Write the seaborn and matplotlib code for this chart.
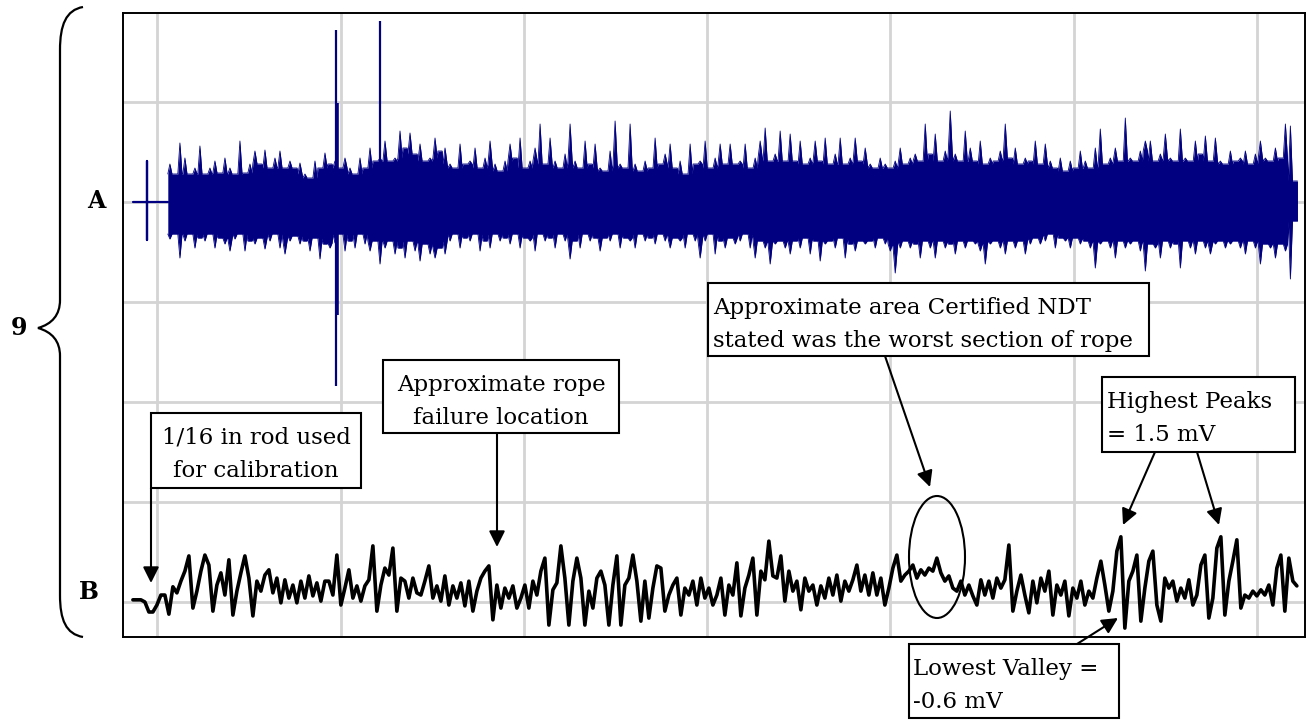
import numpy as np
import pandas as pd
import matplotlib
matplotlib.use("Agg")
import matplotlib.pyplot as plt
import seaborn as sns
from matplotlib.patches import Rectangle, Ellipse, PathPatch, FancyArrowPatch
from matplotlib.path import Path

# --- channel A (upper trace): envelope of the dense signal, in grid divisions ---
A_CENTRE = 4.0
A_X_START = 0.068
A_X_STEP = 0.0273
A_UPPER = [
    0.38, 0.28, 0.59, 0.44, 0.28, 0.34, 0.56, 0.28, 0.34, 0.41, 0.29, 0.44, 0.34, 0.28, 0.61, 0.29, 0.38, 0.51, 0.38, 0.52,
    0.34, 0.44, 0.51, 0.34, 0.41, 0.34, 0.39, 0.28, 0.24, 0.41, 0.34, 0.49, 0.38, 0.41, 0.34, 0.44, 0.34, 0.28, 0.44, 0.34,
    0.54, 0.41, 0.44, 0.61, 0.41, 0.44, 0.71, 0.54, 0.69, 0.48, 0.58, 0.41, 0.44, 0.64, 0.51,
    0.54, 0.38, 0.34, 0.58, 0.38, 0.41, 0.54, 0.34, 0.44, 0.61, 0.38, 0.31, 0.41, 0.58, 0.44, 0.64, 0.34, 0.41, 0.54, 0.78,
    0.38, 0.64, 0.41, 0.34, 0.48, 0.78, 0.41, 0.34, 0.61, 0.38, 0.58, 0.34, 0.31, 0.51, 0.81, 0.38, 0.34, 0.78, 0.38, 0.31,
    0.41, 0.34, 0.64, 0.38, 0.48, 0.58, 0.34, 0.41, 0.28, 0.58, 0.38, 0.41, 0.61, 0.34, 0.44, 0.58, 0.38, 0.58, 0.38, 0.41,
    0.58, 0.34, 0.44, 0.61, 0.74, 0.41, 0.48, 0.71, 0.41, 0.68, 0.41, 0.61, 0.38, 0.44, 0.61, 0.41, 0.64, 0.38, 0.48, 0.64,
    0.38, 0.44, 0.64, 0.41,
    0.54, 0.38, 0.34, 0.44, 0.38, 0.34, 0.41, 0.54, 0.38, 0.44, 0.48, 0.41, 0.78, 0.48, 0.68, 0.41, 0.51, 0.91, 0.48, 0.41,
    0.71, 0.54, 0.41, 0.61, 0.38, 0.44, 0.41, 0.51, 0.78, 0.44, 0.54, 0.38, 0.44, 0.41, 0.61, 0.38, 0.58, 0.41, 0.34, 0.44,
    0.31, 0.41, 0.34, 0.51, 0.41, 0.34, 0.54, 0.73, 0.38, 0.44, 0.54, 0.41, 0.84, 0.44, 0.41, 0.51, 0.61, 0.61, 0.41, 0.48,
    0.68, 0.44, 0.41, 0.73, 0.44, 0.41, 0.61, 0.48, 0.66, 0.41, 0.64, 0.41, 0.38, 0.51, 0.41, 0.44, 0.51, 0.38, 0.48, 0.61,
    0.44, 0.41, 0.54, 0.44, 0.78, 0.76, 0.21,
]
A_LOWER = [
    0.37, 0.32, 0.56, 0.39, 0.32, 0.46, 0.36, 0.39, 0.32, 0.46, 0.36, 0.42, 0.49, 0.37, 0.32, 0.49, 0.39, 0.42, 0.36, 0.47,
    0.39, 0.32, 0.46, 0.52, 0.39, 0.34, 0.42, 0.39, 0.49, 0.36, 0.57, 0.42, 0.46, 0.41, 0.32, 0.49, 0.39, 0.46, 0.32, 0.42,
    0.49, 0.39, 0.62, 0.46, 0.39, 0.52, 0.46, 0.56, 0.39, 0.49, 0.59, 0.42, 0.52, 0.56, 0.46,
    0.52, 0.39, 0.32, 0.46, 0.36, 0.39, 0.32, 0.49, 0.39, 0.46, 0.32, 0.39, 0.36, 0.42, 0.32, 0.46, 0.36, 0.39, 0.49, 0.32,
    0.39, 0.36, 0.46, 0.32, 0.39, 0.57, 0.39, 0.46, 0.32, 0.39, 0.36, 0.49, 0.36, 0.39, 0.32, 0.46, 0.36, 0.39, 0.46, 0.32,
    0.39, 0.36, 0.42, 0.32, 0.39, 0.46, 0.36, 0.39, 0.46, 0.32, 0.39, 0.56, 0.39, 0.32, 0.52, 0.39, 0.46, 0.36, 0.42, 0.39,
    0.32, 0.46, 0.56, 0.39, 0.46, 0.62, 0.42, 0.39, 0.46, 0.52, 0.39, 0.46, 0.36, 0.52, 0.39, 0.59, 0.42, 0.39, 0.46, 0.36,
    0.56, 0.42, 0.49, 0.39,
    0.42, 0.39, 0.46, 0.36, 0.42, 0.49, 0.71, 0.46, 0.39, 0.46, 0.42, 0.56, 0.39, 0.46, 0.56, 0.39, 0.46, 0.42, 0.52, 0.39,
    0.46, 0.39, 0.42, 0.49, 0.62, 0.42, 0.39, 0.46, 0.52, 0.39, 0.46, 0.39, 0.52, 0.42, 0.36, 0.42, 0.39, 0.32, 0.46, 0.36,
    0.39, 0.46, 0.36, 0.42, 0.39, 0.46, 0.66, 0.42, 0.39, 0.46, 0.56, 0.39, 0.46, 0.42, 0.39, 0.49, 0.69, 0.42, 0.46, 0.56,
    0.39, 0.46, 0.42, 0.66, 0.39, 0.46, 0.52, 0.39, 0.46, 0.52, 0.42, 0.39, 0.46, 0.42, 0.39, 0.46, 0.52, 0.39, 0.46, 0.62,
    0.42, 0.46, 0.56, 0.42, 0.49, 0.77, 0.19,
]

# two large isolated spikes on channel A
SPIKE_X = [0.975, 1.212]
SPIKE_TOP = [1.72, 1.81]
SPIKE_BOTTOM = [-1.84, -0.30]

# calibration blip on channel A before the recording starts
CAL_A_X = [-0.134, -0.057, -0.057, -0.057, -0.057, 0.057]
CAL_A_Y = [0.0, 0.0, 0.41, -0.38, 0.0, 0.0]

# --- channel B (lower trace) in mV ---
B_X_START = -0.134
B_X_STEP = 0.02183
B_MV_PER_DIV = 2.3
B_MV = [
    0.05, 0.05, 0.05, 0.00, -0.23, -0.23, -0.07, 0.16, 0.16, -0.28, 0.35, 0.21, 0.48, 0.71, 1.06, -0.14, 0.25, 0.71, 1.08, 0.85,
    -0.21, 0.39, 0.67, 0.16, 0.97, -0.30, 0.25, 0.67, 1.06, 0.55, -0.32, 0.48, 0.25, 0.62, 0.74, 0.21, 0.55, -0.02, 0.51, 0.09,
    0.39, -0.02, 0.48, 0.09, 0.60, 0.14, 0.44, 0.02, 0.48,
    0.48, 0.16, 1.08, -0.07, 0.32, 0.74, 0.09, 0.37, 0.02, 0.37, 0.51, 1.29, -0.21, 0.39, 0.78, 0.62, 1.24, -0.21, 0.55, 0.48,
    0.09, 0.55, 0.21, 0.16, 0.48, 0.83, 0.09, 0.37, 0.02, 0.60, -0.07, 0.37, 0.09, 0.44, -0.09, 0.48, -0.21, 0.25, 0.55, 0.71,
    0.83, -0.41, 0.39, -0.14, 0.32, 0.09, 0.37, -0.14,
    0.09, 0.39, -0.14, 0.48, 0.16, 0.71, 1.01, -0.53, 0.28, 0.44, 1.29, 0.55, -0.53, 0.48, 1.01, 0.55, -0.53, 0.25, -0.14, 0.55,
    0.71, 0.39, -0.53, 0.39, 1.06, -0.53, 0.39, 0.55, 1.08, 0.48, -0.44, 0.48, -0.37, 0.32, 0.83, 0.78, -0.21, 0.16, 0.39, 0.55,
    -0.30, 0.32, 0.16, 0.48, -0.07, 0.55, 0.09, 0.32, -0.07,
    0.16, 0.55, -0.30, 0.39, 0.16, 0.90, -0.32, 0.32, 0.62, 1.01, -0.30, 0.71, 0.51, 1.40, 0.60, 0.55, 1.06, 0.02, 0.71, 0.25,
    0.48, -0.18, 0.55, 0.25, 0.39, -0.07, 0.37, 0.09, 0.55, 0.16, 0.62, 0.02, 0.48, 0.25, 0.51, 0.85, 0.25, 0.62, 0.16, 0.67,
    0.16, 0.55, -0.07, 0.32, 0.78, 1.08, 0.48, 0.62, 0.71,
    0.85, 0.55, 0.74, 0.62, 0.78, 0.71, 1.01, 0.67, 0.48, 0.60, 0.32, 0.25, 0.48, 0.16, 0.39, 0.14, -0.07, 0.51, 0.16, 0.48,
    0.09, 0.55, 0.32, 0.51, 1.31, -0.21, 0.25, 0.62, 0.16, -0.25, 0.48, -0.02, 0.55, 0.25, 0.71, -0.30, 0.39, 0.16, 0.48, -0.32,
    0.32, 0.09, 0.48, -0.07, 0.25, 0.09, 0.55, 0.94, 0.39,
    -0.21, 0.25, 1.17, 1.50, -0.60, 0.48, 0.71, 1.08, -0.44, 0.32, 0.94, 1.17, -0.07, -0.44, 0.55, 0.32, 0.48, 0.02, 0.32, 0.09,
    0.51, -0.07, 0.16, 0.85, 1.08, -0.37, 0.09, 1.24, 1.50, -0.30, 0.48, 0.94, 1.43, -0.14, 0.16, 0.09, 0.25, 0.14, 0.28, 0.16,
    0.39, -0.07, 0.78, 1.08, -0.21, 1.01, 0.48, 0.37,
]

NAVY = "#000080"
W, H = 1306, 721
FS = 16.5

sns.set_style("white")
plt.rcParams["font.family"] = ["DejaVu Serif"]
plt.rcParams["text.color"] = "black"

fig = plt.figure(figsize=(W / 100, H / 100), dpi=100)
ax = fig.add_axes([123 / W, 1 - 637 / H, (1305 - 123) / W, (637 - 13) / H])

# channel A: a solid core (local minimum of the envelope) with a narrow spike
# rising to the envelope value at every sample
a_x = A_X_START + A_X_STEP * np.arange(len(A_UPPER))
core_up = pd.Series(A_UPPER).rolling(3, center=True, min_periods=1).min().to_numpy()
core_lo = pd.Series(A_LOWER).rolling(3, center=True, min_periods=1).min().to_numpy()
half = 0.42 * A_X_STEP
a_df = pd.DataFrame({
    "x": np.column_stack([a_x - half, a_x, a_x + half]).ravel(),
    "top": A_CENTRE + np.column_stack([core_up, A_UPPER, core_up]).ravel(),
    "bottom": A_CENTRE - np.column_stack([core_lo, A_LOWER, core_lo]).ravel(),
})
ax.fill_between(a_df["x"], a_df["top"], a_df["bottom"], color=NAVY, lw=0, zorder=3)
sns.lineplot(data=a_df, x="x", y="top", color=NAVY, lw=0.6, estimator=None, sort=False, ax=ax, zorder=3)
sns.lineplot(data=a_df, x="x", y="bottom", color=NAVY, lw=0.6, estimator=None, sort=False, ax=ax, zorder=3)
ax.vlines(SPIKE_X, A_CENTRE + np.array(SPIKE_BOTTOM), A_CENTRE + np.array(SPIKE_TOP),
          color=NAVY, lw=1.6, zorder=3)
ax.vlines(SPIKE_X[0] + 0.006, A_CENTRE - 1.13, A_CENTRE + 0.99, color=NAVY, lw=2.6, zorder=3)
ax.plot(CAL_A_X, A_CENTRE + np.array(CAL_A_Y), color=NAVY, lw=1.6, zorder=3)

# channel B
b_df = pd.DataFrame({"x": B_X_START + B_X_STEP * np.arange(len(B_MV)), "mv": B_MV})
b_df["y"] = b_df["mv"] / B_MV_PER_DIV
sns.lineplot(data=b_df, x="x", y="y", color="black", lw=2.6,
             estimator=None, sort=False, ax=ax, zorder=4)

ax.set_xlim(-0.188, 6.263)
ax.set_ylim(-0.35, 5.89)
ax.set_xticks(range(7))
ax.set_yticks(range(6))
ax.grid(True, color="#d4d4d4", lw=2)
ax.set_axisbelow(True)
ax.tick_params(length=0, labelbottom=False, labelleft=False)
ax.set_xlabel("")
ax.set_ylabel("")
for s in ax.spines.values():
    s.set_visible(True)
    s.set_color("black")
    s.set_linewidth(1.4)


def fpx(x, y):
    return (x / W, 1 - y / H)


def text_box(x0, y0, x1, y1, lines, x_text, ha):
    fig.add_artist(Rectangle(fpx(x0, y1), (x1 - x0) / W, (y1 - y0) / H, transform=fig.transFigure,
                             facecolor="white", edgecolor="black", lw=1.5, zorder=5))
    for k, line in enumerate(lines):
        fig.text(*fpx(x_text, y0 + 31 + 33 * k), line, ha=ha, va="baseline", fontsize=FS,
                 color="black", zorder=6)


def arrow(x0, y0, x1, y1):
    fig.add_artist(FancyArrowPatch(fpx(x0, y0), fpx(x1, y1), transform=fig.transFigure,
                                   arrowstyle="-|>", mutation_scale=24, color="black", lw=1.5,
                                   shrinkA=0, shrinkB=0, zorder=6))


text_box(151, 413, 361, 488, ["1/16 in rod used", "for calibration"], 256, "center")
arrow(151, 488, 151, 583)
text_box(383, 360, 619, 433, ["Approximate rope", "failure location"], 501, "center")
arrow(497, 433, 497, 547)
text_box(708, 283, 1149, 356, ["Approximate area Certified NDT", "stated was the worst section of rope"], 713, "left")
arrow(885, 356, 930, 487)
text_box(1102, 377, 1295, 452, ["Highest Peaks", "= 1.5 mV"], 1107, "left")
arrow(1155, 452, 1123, 525)
arrow(1197, 452, 1219, 525)
text_box(909, 644, 1119, 718, ["Lowest Valley =", "-0.6 mV"], 913, "left")
arrow(1077, 644, 1118, 618)

fig.add_artist(Ellipse(fpx(937, 557), 56 / W, 122 / H, transform=fig.transFigure,
                       fill=False, edgecolor="black", lw=1.5, zorder=6))

# curly brace grouping the two channels
brace_px = [(83, 7), (66, 10), (60, 25), (60, 50), (60, 300), (60, 315), (52, 324), (38, 328),
            (52, 332), (60, 341), (60, 356), (60, 595), (60, 620), (66, 634), (83, 637)]
codes = [Path.MOVETO, Path.CURVE4, Path.CURVE4, Path.CURVE4, Path.LINETO,
         Path.CURVE4, Path.CURVE4, Path.CURVE4, Path.CURVE4, Path.CURVE4, Path.CURVE4,
         Path.LINETO, Path.CURVE4, Path.CURVE4, Path.CURVE4]
brace = Path([fpx(x, y) for x, y in brace_px], codes)
fig.add_artist(PathPatch(brace, transform=fig.transFigure, fill=False, edgecolor="black", lw=1.6))

fig.text(*fpx(19, 328), "9", ha="center", va="center", fontsize=17, fontweight="bold", color="black")
fig.text(*fpx(96, 201), "A", ha="center", va="center", fontsize=17, fontweight="bold", color="black")
fig.text(*fpx(89, 592), "B", ha="center", va="center", fontsize=17, fontweight="bold", color="black")

fig.savefig("out.png", dpi=100, facecolor="white")
